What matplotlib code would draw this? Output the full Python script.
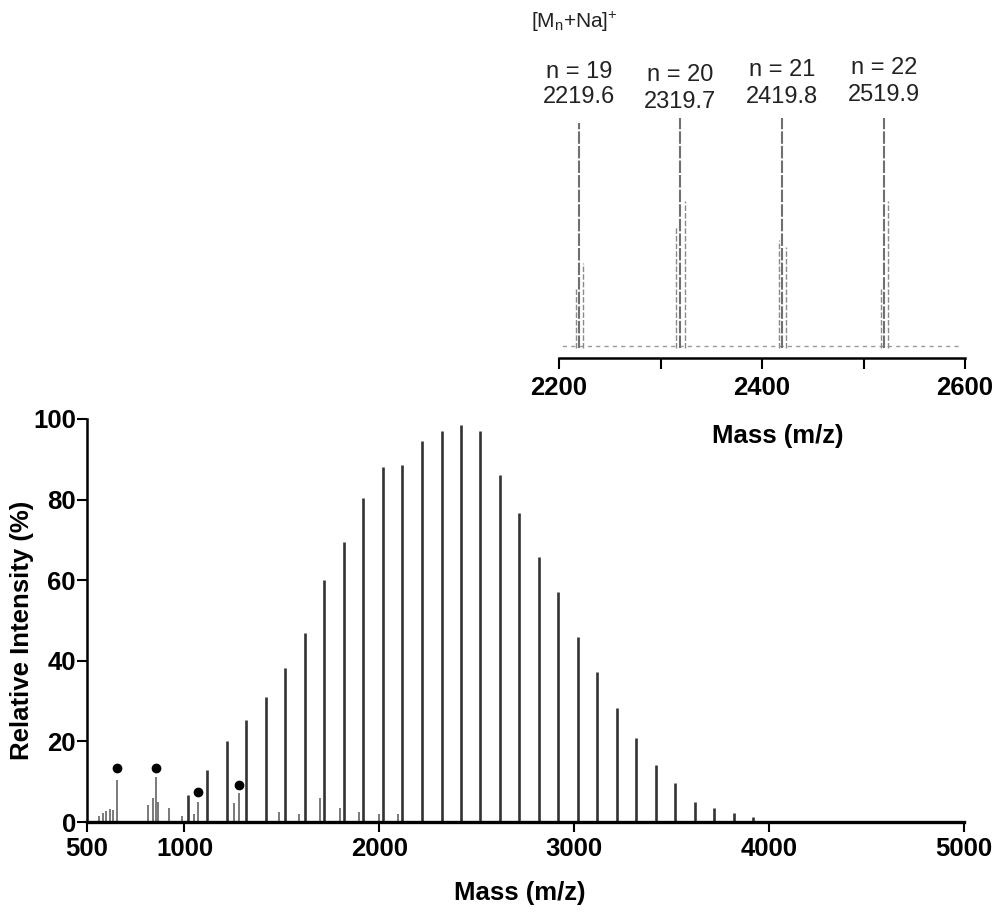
import matplotlib
matplotlib.use("Agg")
import matplotlib.pyplot as plt
from matplotlib.transforms import blended_transform_factory

plt.rcParams['font.family'] = ['Liberation Sans', 'DejaVu Sans']
plt.rcParams['mathtext.default'] = 'regular'

# ---- main spectrum: [Mn+Na]+ series (m/z, relative intensity %) ----
series_mz = [1018, 1118, 1218, 1318, 1418, 1518, 1618, 1718, 1818, 1918,
             2018, 2118, 2219, 2319, 2419, 2519, 2619, 2719, 2819, 2919,
             3019, 3119, 3219, 3319, 3419, 3519, 3619, 3719, 3819, 3919]
series_int = [6.7, 12.9, 20.0, 25.3, 31.1, 38.2, 47.0, 60.0, 69.5, 80.4,
              88.0, 88.5, 94.5, 97.0, 98.5, 97.0, 86.0, 76.7, 65.8, 57.1,
              46.0, 37.3, 28.3, 20.8, 14.1, 9.6, 5.0, 3.4, 2.2, 1.2]

# minor / low-mass peaks
minor_mz = [560, 580, 600, 620, 635, 652, 813, 840, 854, 866, 920, 990,
            1050, 1069, 1254, 1280, 1485, 1590, 1698, 1798, 1898, 1998, 2098]
minor_int = [1.5, 2.2, 2.8, 3.2, 3.0, 10.4, 4.2, 6.0, 11.2, 5.0, 3.5, 1.5,
             2.0, 5.0, 4.7, 7.2, 2.6, 2.0, 6.0, 3.5, 2.5, 2.0, 2.0]

# starred (impurity) peaks
star_mz = [652, 854, 1069, 1280]
star_int = [13.4, 13.4, 7.5, 9.2]

# ---- inset: expanded region 2200-2600 ----
inset_mz = [2219.6, 2319.7, 2419.8, 2519.9]
inset_int = [98, 100, 100, 100]
inset_n = [19, 20, 21, 22]
inset_side_mz = [2216.5, 2224.0, 2315.6, 2324.4, 2416.6, 2424.0, 2517.0, 2524.3]
inset_side_int = [26.7, 36.8, 52.7, 64.0, 47.0, 44.0, 26.7, 64.0]
inset_noise = 1.0

fig = plt.figure(figsize=(9.94, 9.24), dpi=100)
FS = 18.5

# ---------- main axes ----------
ax = fig.add_axes([87/994, 102/924, 877/994, 403/924])
ax.vlines(minor_mz, 0, minor_int, color='#7a7a7a', lw=1.4)
ax.vlines(series_mz, 0, series_int, color='#333333', lw=1.9)
ax.plot(star_mz, star_int, 'o', color='black', ms=6)
ax.set_xlim(500, 5000)
ax.set_ylim(0, 100)
ax.set_xticks([500, 1000, 2000, 3000, 4000, 5000])
ax.set_yticks([0, 20, 40, 60, 80, 100])
for s in ['top', 'right']:
    ax.spines[s].set_visible(False)
ax.spines['left'].set_linewidth(1.8)
ax.spines['bottom'].set_linewidth(2.4)
ax.tick_params(direction='out', length=7, width=1.5, labelsize=FS)
ax.tick_params(axis='x', pad=4)
ax.tick_params(axis='y', pad=1)
for lbl in ax.get_xticklabels() + ax.get_yticklabels():
    lbl.set_fontweight('bold')

fig.text(22/994, 1 - 630/924, 'Relative Intensity (%)', rotation=90,
         ha='center', va='center', fontsize=FS, fontweight='bold')
fig.text(520/994, 1 - 893/924, 'Mass (m/z)', ha='center', va='center',
         fontsize=FS, fontweight='bold')

# ---------- inset axes ----------
axi = fig.add_axes([559/994, (924-358)/924, 406/994, (358-15)/924])
axi.hlines(inset_noise, 2195, 2595, color='#9a9a9a', lw=1.0, linestyles=(0, (3, 3)))
axi.vlines(inset_side_mz, 0, inset_side_int, color='#8a8a8a', lw=1.0,
           linestyles=(0, (4, 1.5)))
axi.vlines(inset_mz, 0, inset_int, color='#707070', lw=1.5,
           linestyles=(0, (6, 1)))
axi.set_xlim(2200, 2600)
axi.set_ylim(-4.35, 144.8)
for s in ['top', 'right', 'left']:
    axi.spines[s].set_visible(False)
axi.spines['bottom'].set_linewidth(1.8)
axi.set_yticks([])
axi.set_xticks([2200, 2400, 2600])
axi.set_xticks([2300, 2500], minor=True)
axi.tick_params(axis='x', which='both', direction='out', length=8, width=1.5,
                labelsize=FS, pad=5)
for lbl in axi.get_xticklabels():
    lbl.set_fontweight('bold')
fig.text(778/994, 1 - 436/924, 'Mass (m/z)', ha='center', va='center',
         fontsize=FS, fontweight='bold')

# inset annotations
tr = blended_transform_factory(axi.transData, fig.transFigure)
n_y = [72, 75, 70, 68]
v_y = [97, 102, 97, 95]
for mz, n, ny, vy in zip(inset_mz, inset_n, n_y, v_y):
    axi.text(mz, 1 - ny/924, f'n = {n}', transform=tr, ha='center', va='center',
             fontsize=17, color='#222222', clip_on=False)
    axi.text(mz, 1 - vy/924, f'{mz:.1f}', transform=tr, ha='center', va='center',
             fontsize=17, color='#222222', clip_on=False)
fig.text(531/994, 1 - 22/924, r'[M$_{n}$+Na]$^{+}$', ha='left', va='center',
         fontsize=15, color='#222222')

fig.savefig('out.png', dpi=100)
